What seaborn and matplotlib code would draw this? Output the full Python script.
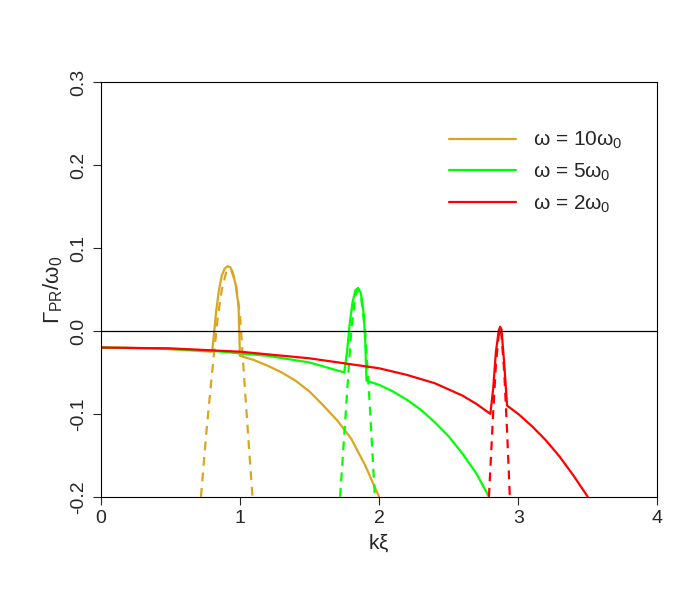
import matplotlib
matplotlib.use("Agg")
import matplotlib.pyplot as plt
import seaborn as sns

sns.set_style("white")
plt.rcParams['font.family'] = ['Liberation Sans', 'DejaVu Sans']
plt.rcParams['mathtext.fontset'] = 'custom'
plt.rcParams['mathtext.rm'] = 'Liberation Sans'
plt.rcParams['mathtext.it'] = 'Liberation Sans'

o_sx = [0,0.2,0.4,0.6,0.8,0.81,0.83,0.85,0.87,0.89,0.91,0.93,0.95,0.97,0.99,1.0,1.1,1.2,1.3,1.4,1.5,1.6,1.7,1.8,1.9,2.0]
o_sy = [-0.020,-0.0205,-0.021,-0.023,-0.025,-0.01,0.025,0.05,0.067,0.075,0.078,0.077,0.07,0.055,0.03,-0.030,-0.035,-0.042,-0.05,-0.06,-0.073,-0.09,-0.108,-0.13,-0.162,-0.2]
o_dx = [0.72,0.76,0.8,0.84,0.87,0.9,0.92,0.94,0.97,1.0,1.04,1.09]
o_dy = [-0.2,-0.12,-0.05,0.015,0.05,0.07,0.075,0.072,0.058,0.02,-0.08,-0.2]
g_sx = [0,0.4,0.8,1.2,1.5,1.75,1.77,1.79,1.81,1.83,1.85,1.87,1.89,1.9,1.91,2.0,2.1,2.2,2.3,2.4,2.5,2.6,2.7,2.79]
g_sy = [-0.02,-0.021,-0.024,-0.03,-0.038,-0.05,-0.025,0.01,0.035,0.049,0.052,0.045,0.02,-0.01,-0.06,-0.065,-0.073,-0.083,-0.095,-0.11,-0.127,-0.148,-0.172,-0.2]
g_dx = [1.72,1.76,1.8,1.83,1.85,1.87,1.9,1.93,1.97]
g_dy = [-0.2,-0.1,0.0,0.043,0.05,0.042,0.0,-0.08,-0.2]
r_sx = [0,0.5,1,1.5,2,2.2,2.4,2.6,2.7,2.8,2.82,2.84,2.86,2.87,2.88,2.9,2.92,3.0,3.1,3.2,3.3,3.4,3.5]
r_sy = [-0.02,-0.021,-0.025,-0.033,-0.045,-0.053,-0.063,-0.078,-0.088,-0.1,-0.07,-0.025,0.0,0.005,0.002,-0.04,-0.09,-0.1,-0.115,-0.132,-0.152,-0.175,-0.2]
r_dx = [2.79,2.82,2.84,2.86,2.87,2.88,2.9,2.92,2.94]
r_dy = [-0.2,-0.1,-0.04,-0.005,0.003,-0.005,-0.05,-0.12,-0.2]

fig = plt.figure(figsize=(7, 6), dpi=100)
ax = fig.add_axes([0.144, 0.172, 0.795, 0.691])

series = [
    (o_sx, o_sy, o_dx, o_dy, '#DAA520', r'$\omega$ = 10$\omega_0$'),
    (g_sx, g_sy, g_dx, g_dy, '#00FF00', r'$\omega$ = 5$\omega_0$'),
    (r_sx, r_sy, r_dx, r_dy, '#FF0000', r'$\omega$ = 2$\omega_0$'),
]
for sx, sy, dx, dy, c, lab in series:
    sns.lineplot(x=sx, y=sy, ax=ax, color=c, lw=1.6, sort=False, label=lab)
    sns.lineplot(x=dx, y=dy, ax=ax, color=c, lw=1.6, sort=False, linestyle=(0, (4, 3)))
ax.axhline(0, color='black', lw=0.9)

ax.set_xlim(0, 4)
ax.set_ylim(-0.2, 0.3)
ax.set_xticks([0, 1, 2, 3, 4])
ax.set_yticks([-0.2, -0.1, 0.0, 0.1, 0.2, 0.3])
ax.set_yticklabels(['-0.2', '-0.1', '0.0', '0.1', '0.2', '0.3'], rotation=90, va='center')
ax.tick_params(axis='both', direction='out', length=6, width=0.8, labelsize=14, left=True, bottom=True)
for s in ax.spines.values():
    s.set_color('black'); s.set_linewidth(0.8)
ax.set_xlabel(r'k$\xi$', fontsize=15)
ax.set_ylabel(r'$\Gamma_{\mathrm{PR}}/\omega_0$', fontsize=16)
ax.legend(loc='upper right', bbox_to_anchor=(0.97, 0.93), frameon=False, fontsize=15, handlelength=3.2)
fig.savefig('out.png', dpi=100)
